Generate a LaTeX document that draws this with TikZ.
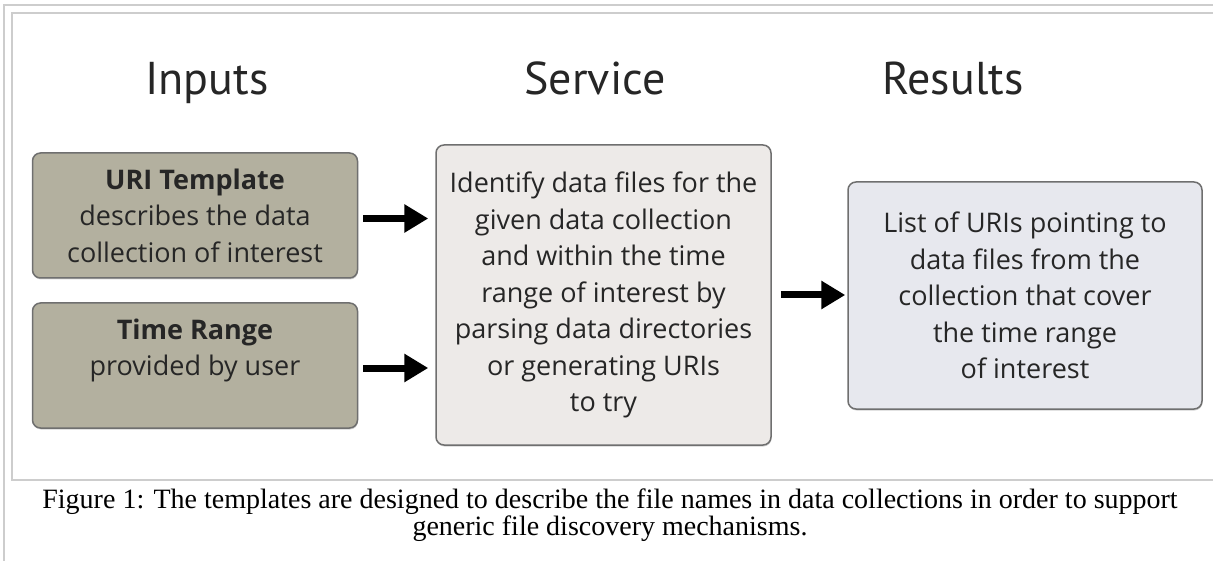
\documentclass[tikz,border=0pt]{standalone}
\usepackage{fontspec}
\setmainfont{Liberation Serif}
\newfontfamily\boxfont{Open Sans}
\newfontfamily\headfont{PT Sans}
\usepackage{tikz}
\usetikzlibrary{arrows.meta,shadows}

\definecolor{inbox}{HTML}{B3B09F}
\definecolor{svcbox}{HTML}{EDEAE8}
\definecolor{resbox}{HTML}{E7E8EE}
\definecolor{boxline}{HTML}{6F6F6F}
\definecolor{rule}{HTML}{CDCDCD}
\definecolor{ink}{HTML}{262626}

\begin{document}
\begin{tikzpicture}[x=1pt,y=-1pt,
  panel/.style={draw=boxline,line width=1.5pt,rounded corners=8pt,inner sep=0pt,
    align=center,text=ink,font=\boxfont\fontsize{27}{36.5}\selectfont,
    drop shadow={shadow xshift=0.5pt,shadow yshift=-1.5pt,opacity=0.35}},
  heading/.style={anchor=base,text=ink,font=\headfont\fontsize{46}{50}\selectfont},
  flow/.style={-{Triangle[length=24pt,width=27pt]},line width=7pt},
  frameline/.style={draw=rule,line width=2pt}
]
\useasboundingbox (0,0) rectangle (1213,561);

% outer and inner page frames (open to the right)
\draw[frameline] (4,561) -- (4,5) -- (1213,5);
\draw[frameline] (1213,13) -- (12,13) -- (12,480) -- (1213,480);

% column titles
\node[heading] (hin)  at (207,95) {Inputs};
\node[heading] (hsvc) at (595,95) {Service};
\node[heading] (hres) at (953,95) {Results};

% Inputs
\node[panel,fill=inbox,minimum width=325pt,minimum height=125pt] (uri) at (195,215.5)
  {\textbf{URI Template}\\describes the data\\collection of interest};
\node[panel,fill=inbox,minimum width=325pt,minimum height=125pt] (trange) at (195,365.5)
  {\textbf{Time Range}\\provided by user\\\mbox{}};

% Service
\node[panel,fill=svcbox,minimum width=335pt,minimum height=300pt] (service) at (603.5,295)
  {Identify data files for the\\given data collection\\and within the time\\range of interest by\\parsing data directories\\or generating URIs\\to try};

% Results
\node[panel,fill=resbox,minimum width=354pt,minimum height=227pt] (results) at (1025,295.5)
  {List of URIs pointing to\\data files from the\\collection that cover\\the time range\\of interest};

% arrows
\draw[flow,shorten <=5pt,shorten >=7pt] ([yshift=-3pt]uri.east) -- ([yshift=-3pt]uri.east -| service.west);
\draw[flow,shorten <=5pt,shorten >=7pt] ([yshift=-2.5pt]trange.east) -- ([yshift=-2.5pt]trange.east -| service.west);
\draw[flow,shorten <=9pt,shorten >=2pt] (service.east) -- (service.east -| results.west);

% caption (base is the last line)
\node[align=center,anchor=base,font=\fontsize{28}{25}\selectfont] (cap) at (610,535)
  {Figure 1: The templates are designed to describe the file names in data collections in order to support\\generic file discovery mechanisms.};
\end{tikzpicture}
\end{document}
